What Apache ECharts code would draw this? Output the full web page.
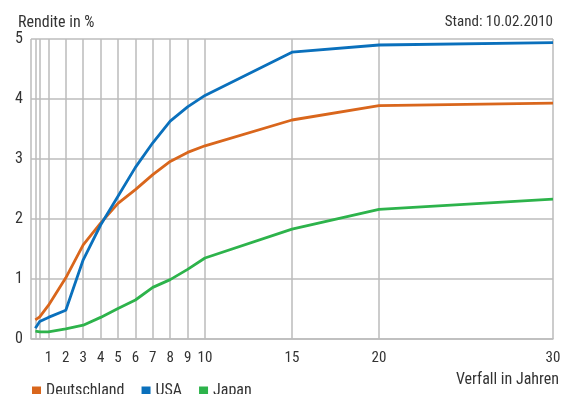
<!DOCTYPE html>
<html><head><meta charset="utf-8">
<script src="https://cdn.jsdelivr.net/npm/echarts@6/dist/echarts.min.js"></script>
<style>html,body{margin:0;padding:0;background:#fff}#c{width:567px;height:394px}</style>
</head><body><div id="c"></div>
<script>
const maturities = [0.25, 0.5, 1, 2, 3, 4, 5, 6, 7, 8, 9, 10, 15, 20, 30];
const deutschland = [0.32, 0.37, 0.56, 1.02, 1.57, 1.93, 2.26, 2.49, 2.74, 2.96, 3.11, 3.22, 3.65, 3.89, 3.93];
const usa = [0.18, 0.29, 0.36, 0.48, 1.32, 1.9, 2.38, 2.86, 3.27, 3.63, 3.87, 4.06, 4.78, 4.9, 4.94];
const japan = [0.13, 0.12, 0.12, 0.17, 0.23, 0.36, 0.51, 0.65, 0.86, 0.99, 1.16, 1.35, 1.83, 2.16, 2.33];
const gridValues = [0, 0.25, 0.5, 1, 2, 3, 4, 5, 6, 7, 8, 9, 10, 15, 20, 30];
const xLabels = [1, 2, 3, 4, 5, 6, 7, 8, 9, 10, 15, 20, 30];
const seriesNames = ['Deutschland', 'USA', 'Japan'];
const colors = ['#d9661c', '#0a70bc', '#2db34b'];

const font = '"Liberation Sans Narrow", "Roboto Condensed", Roboto, sans-serif';
const chart = echarts.init(document.getElementById('c'));
const pair = arr => maturities.map((m, i) => [m, arr[i]]);
chart.setOption({
  animation: false,
  color: colors,
  textStyle: {fontFamily: font},
  grid: {left: 31, right: 14, top: 39, bottom: 55},
  title: [
    {text: 'Rendite in %', left: 13, top: 10, textStyle: {fontSize: 16, fontWeight: 'normal', color: '#333', fontFamily: font}},
    {text: 'Stand: 10.02.2010', right: 9, top: 10, textStyle: {fontSize: 15, fontWeight: 'normal', color: '#333', fontFamily: font}},
    {text: 'Verfall in Jahren', right: 3, top: 367, textStyle: {fontSize: 16, fontWeight: 'normal', color: '#333', fontFamily: font}}
  ],
  legend: {
    left: 27, top: 378, itemWidth: 9, itemHeight: 9, itemGap: 17, icon: 'rect',
    textStyle: {fontSize: 16, color: '#333', fontFamily: font},
    data: seriesNames
  },
  xAxis: {
    type: 'value', min: 0, max: 30,
    axisLine: {show: true, lineStyle: {color: '#bcbcbc', width: 1.5}},
    splitLine: {show: false},
    axisTick: {show: true, inside: true, length: 300, customValues: gridValues, lineStyle: {color: '#bcbcbc', width: 1.5}},
    axisLabel: {customValues: xLabels, fontSize: 15, color: '#333', margin: 12, fontFamily: font}
  },
  yAxis: {
    type: 'value', min: 0, max: 5, interval: 1,
    axisLine: {show: false}, axisTick: {show: false},
    splitLine: {show: true, lineStyle: {color: '#bcbcbc', width: 1.5}},
    axisLabel: {fontSize: 16, color: '#333', margin: 8, fontFamily: font}
  },
  series: [
    {name: seriesNames[0], type: 'line', data: pair(deutschland), symbol: 'none', lineStyle: {width: 2.8}},
    {name: seriesNames[1], type: 'line', data: pair(usa), symbol: 'none', lineStyle: {width: 2.8}},
    {name: seriesNames[2], type: 'line', data: pair(japan), symbol: 'none', lineStyle: {width: 2.8}}
  ]
});
</script></body></html>
